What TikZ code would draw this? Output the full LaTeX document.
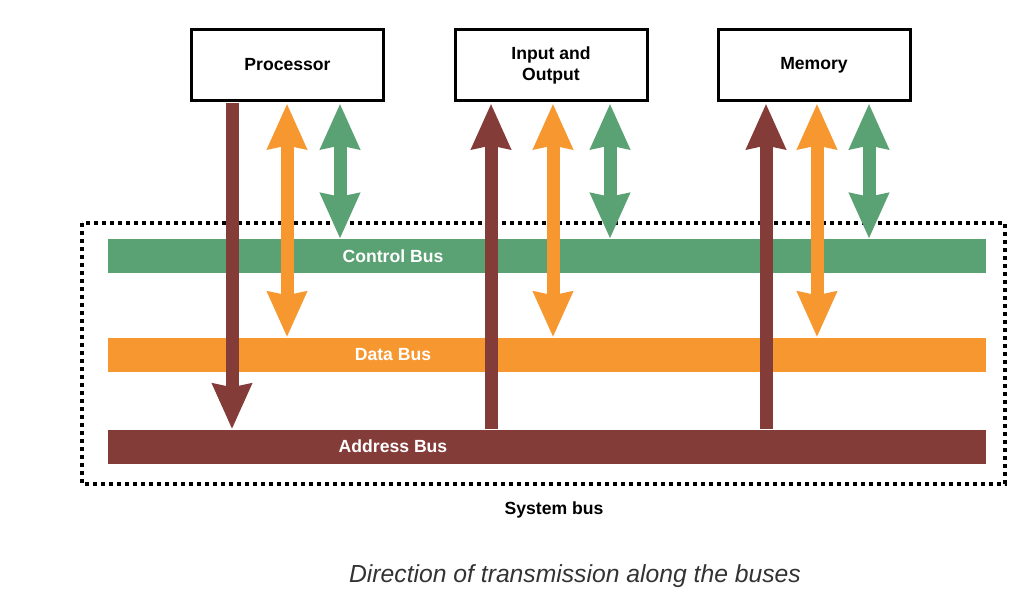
\documentclass[tikz,border=0pt]{standalone}
\usepackage{fontspec}
\setmainfont{Liberation Sans}
\usetikzlibrary{arrows.meta}
\definecolor{busgreen}{HTML}{5AA173}
\definecolor{busorange}{HTML}{F7972F}
\definecolor{busbrown}{HTML}{843C39}
\definecolor{captiongray}{HTML}{333333}
\tikzset{
  unit/.style={draw=black, line width=3pt, fill=white, minimum width=192pt, minimum height=71pt, inner sep=0pt, align=center, font=\fontsize{17.6}{21}\selectfont\bfseries},
  bus/.style={minimum width=878pt, minimum height=34pt, inner sep=0pt},
  buslabel/.style={text=white, font=\fontsize{17.6}{21}\selectfont\bfseries, inner sep=0pt},
  tip/.tip={Stealth[length=45pt, width=38pt, inset=3pt]},
  onearrow/.style={line width=13pt, -{tip}},
  twoarrow/.style={line width=13pt, {tip}-{tip}},
}
\begin{document}
\begin{tikzpicture}[x=1pt, y=-1pt]
\useasboundingbox (0,0) rectangle (1033,604);
% system bus frame
\draw[line width=4pt, dash pattern=on 4pt off 4pt] (82,223) rectangle (1005,484);
% buses
\node[bus, fill=busgreen] (ctrl) at (547,256) {};
\node[bus, fill=busorange] (data) at (547,354.5) {};
\node[bus, fill=busbrown] (addr) at (547,446.5) {};
% units
\node[unit] (proc) at (287.5,65) {Processor};
\node[unit] (io) at (551,65) {Input and\\Output};
\node[unit] (mem) at (814,65) {Memory};
% x positions of the arrows
\coordinate (pa) at (232,0);
\coordinate (pd) at (287,0);
\coordinate (pc) at (340,0);
\coordinate (ia) at (491,0);
\coordinate (id) at (553,0);
\coordinate (ic) at (610,0);
\coordinate (ma) at (766,0);
\coordinate (md) at (817,0);
\coordinate (mc) at (869,0);
% processor
\draw[onearrow, busbrown] ([yshift=-1.5pt]proc.south -| pa) -- (addr.north -| pa);
\draw[twoarrow, busorange] ([yshift=-1.5pt]proc.south -| pd) -- (data.north -| pd);
\draw[twoarrow, busgreen] ([yshift=-1.5pt]proc.south -| pc) -- (ctrl.north -| pc);
% input and output
\draw[onearrow, busbrown] (addr.north -| ia) -- ([yshift=-1.5pt]io.south -| ia);
\draw[twoarrow, busorange] ([yshift=-1.5pt]io.south -| id) -- (data.north -| id);
\draw[twoarrow, busgreen] ([yshift=-1.5pt]io.south -| ic) -- (ctrl.north -| ic);
% memory
\draw[onearrow, busbrown] (addr.north -| ma) -- ([yshift=-1.5pt]mem.south -| ma);
\draw[twoarrow, busorange] ([yshift=-1.5pt]mem.south -| md) -- (data.north -| md);
\draw[twoarrow, busgreen] ([yshift=-1.5pt]mem.south -| mc) -- (ctrl.north -| mc);
% labels
\node[buslabel] (ctrllabel) at (393,256) {Control Bus};
\node[buslabel] (datalabel) at (393,355) {Data Bus};
\node[buslabel] (addrlabel) at (393,446) {Address Bus};
\node[font=\fontsize{17.6}{21}\selectfont\bfseries, inner sep=0pt] (sysbus) at (554,510) {System bus};
\node[font=\fontsize{24.7}{28}\selectfont\itshape, text=captiongray, inner sep=0pt] (caption) at (575,576) {Direction of transmission along the buses};
\end{tikzpicture}
\end{document}
